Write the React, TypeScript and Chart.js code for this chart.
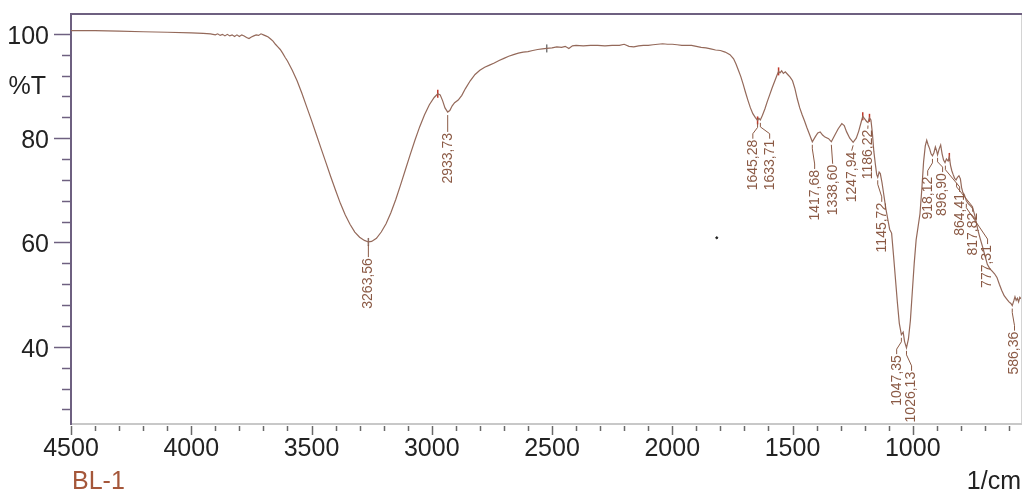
import React, { useEffect, useRef } from 'react';
import { Chart, registerables } from 'chart.js';

Chart.register(...registerables);

// ---- Spectrum data (wavenumber 1/cm, %T) ----
const wavenumbers = [
  4500, 4400, 4300, 4200, 4100, 4000, 3950, 3920, 3900, 3890, 3880, 3870, 3860, 3850, 3840, 3830, 3820, 3810,
  3800, 3790, 3780, 3770, 3760, 3750, 3740, 3730, 3720, 3710, 3700, 3690, 3680, 3670, 3660, 3650, 3640, 3630,
  3620, 3610, 3600, 3580, 3560, 3540, 3520, 3500, 3480, 3460, 3440, 3420, 3400, 3380, 3360, 3340, 3320, 3300,
  3280, 3263.56, 3250, 3230, 3210, 3190, 3170, 3150, 3130, 3110, 3090, 3070, 3050, 3030, 3010, 2990, 2975,
  2965, 2955, 2945, 2933.73, 2925, 2915, 2905, 2890, 2875, 2860, 2840, 2820, 2800, 2780, 2760, 2740, 2720,
  2700, 2680, 2660, 2640, 2620, 2600, 2580, 2560, 2540, 2522, 2500, 2480, 2460, 2445, 2430, 2415, 2400, 2370,
  2340, 2310, 2280, 2250, 2220, 2200, 2180, 2160, 2140, 2120, 2100, 2080, 2060, 2040, 2020, 2000, 1980, 1960,
  1940, 1920, 1900, 1880, 1860, 1840, 1820, 1800, 1780, 1760, 1745, 1735, 1725, 1715, 1705, 1695, 1685, 1675,
  1665, 1655, 1645.28, 1640, 1633.71, 1625, 1615, 1605, 1595, 1585, 1575, 1565, 1558, 1552, 1545, 1538, 1530,
  1520, 1510, 1500, 1490, 1480, 1470, 1460, 1450, 1440, 1430, 1417.68, 1405, 1395, 1385, 1375, 1365, 1350,
  1338.6, 1325, 1310, 1295, 1285, 1275, 1262, 1247.94, 1235, 1225, 1215, 1208, 1200, 1192, 1186.22, 1180, 1174,
  1168, 1162, 1155, 1150, 1145.72, 1140, 1135, 1128, 1120, 1112, 1104, 1096, 1088, 1080, 1072, 1064, 1056,
  1047.35, 1040, 1034, 1026.13, 1018, 1010, 1002, 994, 986, 978, 970, 962, 955, 948, 942, 936, 930, 924, 918.12,
  912, 906, 901, 896.9, 890, 884, 878, 872, 866, 860, 853, 848, 843, 838, 832, 826, 820, 814, 808, 802, 797, 792,
  786, 780, 777.31, 770, 760, 750, 740, 730, 720, 710, 700, 690, 680, 670, 660, 650, 640, 630, 620, 610, 600, 592,
  586.36, 580, 575, 570, 565, 560, 555, 550,
];

const transmittance = [
  100.6, 100.6, 100.5, 100.4, 100.3, 100.2, 100.1, 100.0, 99.8, 100.0, 99.7, 99.9, 99.6, 99.9, 99.6, 99.8, 99.5, 99.8,
  99.5, 99.8, 99.6, 99.3, 99.1, 99.4, 99.6, 99.8, 99.7, 100.0, 99.8, 99.6, 99.4, 99.0, 98.6, 98.0, 97.5, 97.0,
  96.3, 95.5, 94.8, 93.0, 91.0, 88.6, 86.0, 83.4, 80.7, 78.0, 75.3, 72.6, 70.0, 67.5, 65.3, 63.5, 62.0, 61.0,
  60.4, 60.1, 60.2, 60.8, 62.0, 63.6, 65.7, 68.2, 71.0, 73.9, 76.8, 79.6, 82.2, 84.5, 86.4, 87.8, 88.5,
  88.3, 87.2, 85.8, 85.0, 85.3, 86.2, 86.8, 87.3, 88.2, 89.5, 91.0, 92.2, 93.0, 93.6, 94.0, 94.4, 94.9,
  95.3, 95.7, 96.0, 96.3, 96.5, 96.6, 96.8, 97.0, 97.1, 97.2, 97.3, 97.5, 97.4, 97.6, 97.2, 97.7, 97.8, 97.7,
  97.8, 97.8, 97.7, 97.8, 97.8, 98.0, 97.6, 97.5, 97.7, 97.8, 97.8, 97.9, 98.0, 98.1, 98.0, 98.0, 97.9, 97.8,
  97.8, 97.8, 97.6, 97.4, 97.3, 97.1, 96.9, 96.8, 96.5, 96.0, 95.2, 94.2, 93.0, 91.8, 90.3, 88.7, 87.2, 85.8,
  84.7, 84.0, 83.4, 83.8, 83.5, 84.4, 85.6, 87.0, 88.3, 89.6, 90.8, 92.0, 92.8, 92.5, 92.9, 92.4, 92.7,
  92.2, 91.7, 91.0, 89.5, 87.5, 85.8, 84.5, 83.3, 82.0, 80.8, 79.3, 80.3, 81.0, 81.2, 80.6, 80.2, 79.9,
  79.3, 80.5, 81.8, 82.8, 82.4, 81.2, 80.0, 79.2, 80.0, 81.3, 83.0, 84.2, 83.7, 83.2, 83.0, 83.9, 83.5,
  81.0, 77.5, 74.8, 73.0, 72.5, 73.5, 73.2, 71.5, 69.0, 66.5, 64.5, 62.5, 61.8, 57.5, 53.0, 48.5, 44.5,
  42.3, 42.8, 41.0, 39.8, 41.5, 45.0, 50.5, 56.0, 60.5, 63.0, 65.5, 70.5, 75.5, 78.5, 79.6, 78.7, 78.0, 77.0, 76.6,
  77.2, 78.3, 77.6, 76.8, 78.0, 78.7, 77.0, 75.8, 75.3, 76.0, 75.6, 76.4, 74.8, 73.8, 73.0, 72.3, 72.0, 72.5, 72.8, 72.2, 70.5, 69.6,
  69.2, 68.4, 68.0, 67.5, 67.0, 66.5, 64.8, 62.5, 60.8, 59.2, 57.5, 55.8, 55.0, 54.5, 54.0, 53.3, 52.0, 50.8, 49.8, 49.2, 48.6, 48.3,
  47.9, 48.8, 49.6, 48.9, 49.3, 48.6, 49.5, 49.2,
];

// small marker ticks drawn on the trace
const markerWn = [2975, 2522, 3263.56, 1645.28, 1558, 1208, 1180, 848];
const markerT = [88.5, 97.2, 60.1, 83.4, 92.8, 84.2, 83.9, 76.4];
const markerColors = ['#c0392b', '#777777', '#8d6e63', '#c0392b', '#c0392b', '#c0392b', '#c0392b', '#c0392b'];

// stray dot in the plot
const dotWn = [1815];
const dotT = [60.9];

// peak labels: text, peak wavenumber, peak %T, label wavenumber, label top %T
const peakText = ['3263,56', '2933,73', '1645,28', '1633,71', '1417,68', '1338,60', '1247,94', '1186,22', '1145,72',
  '918,12', '896,90', '864,41', '817,82', '777,31', '1047,35', '1026,13', '586,36'];
const peakWn = [3263.56, 2933.73, 1645.28, 1633.71, 1417.68, 1338.6, 1247.94, 1186.22, 1145.72,
  918.12, 896.9, 864.41, 817.82, 777.31, 1047.35, 1026.13, 586.36];
const peakT = [60.1, 85.0, 83.4, 83.5, 79.3, 79.3, 79.2, 83.0, 72.5, 76.6, 76.8, 75.3, 72.0, 68.0, 42.3, 39.8, 47.9];
const labelWn = [3263.56, 2933.73, 1665, 1595, 1408, 1333, 1254, 1187, 1129, 938, 876, 805, 751, 689, 1067, 1005, 577];
const labelTopT = [57.0, 81.0, 79.7, 79.7, 73.9, 74.9, 77.4, 81.6, 67.6, 72.6, 73.3, 69.5, 65.7, 59.5, 38.4, 35.2, 42.9];

// axis ticks
const xTicks = [4500, 4400, 4300, 4200, 4100, 4000, 3900, 3800, 3700, 3600, 3500, 3400, 3300, 3200, 3100, 3000,
  2900, 2800, 2700, 2600, 2500, 2400, 2300, 2200, 2100, 2000, 1900, 1800, 1700, 1600, 1500, 1400, 1300, 1200,
  1100, 1000, 900, 800, 700, 600];
const xLabelTicks = [4500, 4000, 3500, 3000, 2500, 2000, 1500, 1000];
const yTicks = [28, 32, 36, 40, 44, 48, 52, 56, 60, 64, 68, 72, 76, 80, 84, 88, 92, 96, 100];
const yLabelTicks = [40, 60, 80, 100];

const FONT = '"Liberation Sans", Arial, sans-serif';
const AXIS_PURPLE = '#6e6080';
const TRACE = '#94695a';
const LABEL_BROWN = '#8b5a45';

const framePlugin = {
  id: 'frame',
  beforeDatasetsDraw(chart: any) {
    const { ctx, chartArea } = chart;
    const { left, right, top, bottom } = chartArea;
    const ys = chart.scales.y;
    const xs = chart.scales.x;
    ctx.save();
    // right border
    ctx.strokeStyle = '#d4d4d4';
    ctx.lineWidth = 1;
    ctx.beginPath();
    ctx.moveTo(right + 0.5, top);
    ctx.lineTo(right + 0.5, bottom);
    ctx.stroke();
    // bottom axis
    ctx.strokeStyle = '#c8c8c8';
    ctx.lineWidth = 2;
    ctx.beginPath();
    ctx.moveTo(left, bottom);
    ctx.lineTo(right + 1, bottom);
    ctx.stroke();
    // x ticks
    ctx.strokeStyle = '#6a6a6a';
    ctx.lineWidth = 1.5;
    xTicks.forEach((v) => {
      const px = Math.round(xs.getPixelForValue(v)) + 0.5;
      const major = xLabelTicks.includes(v);
      ctx.beginPath();
      ctx.moveTo(px, bottom + 2);
      ctx.lineTo(px, bottom + (major ? 11 : 7));
      ctx.stroke();
    });
    // top line
    ctx.strokeStyle = AXIS_PURPLE;
    ctx.lineWidth = 2;
    ctx.beginPath();
    ctx.moveTo(left - 1, top);
    ctx.lineTo(right + 1, top);
    ctx.stroke();
    // left axis
    ctx.beginPath();
    ctx.moveTo(left, top);
    ctx.lineTo(left, bottom + 1);
    ctx.stroke();
    // y ticks
    ctx.lineWidth = 1.5;
    yTicks.forEach((v) => {
      const py = Math.round(ys.getPixelForValue(v)) + 0.5;
      const major = yLabelTicks.includes(v);
      ctx.beginPath();
      ctx.moveTo(left - (major ? 17 : 9), py);
      ctx.lineTo(left, py);
      ctx.stroke();
    });
    ctx.restore();
  },
  afterDatasetsDraw(chart: any) {
    const { ctx, chartArea } = chart;
    const xs = chart.scales.x;
    const ys = chart.scales.y;
    ctx.save();
    // peak labels with leader lines
    ctx.strokeStyle = LABEL_BROWN;
    ctx.fillStyle = LABEL_BROWN;
    ctx.lineWidth = 1;
    ctx.font = `14px ${FONT}`;
    peakText.forEach((t, i) => {
      const px = xs.getPixelForValue(peakWn[i]);
      const py = ys.getPixelForValue(peakT[i]);
      const lx = xs.getPixelForValue(labelWn[i]);
      const ly = ys.getPixelForValue(labelTopT[i]);
      ctx.beginPath();
      ctx.moveTo(px, py + 3);
      if (Math.abs(lx - px) > 2) {
        ctx.lineTo(px, Math.min(py + 7, ly - 8));
        ctx.lineTo(lx, ly - 6);
      }
      ctx.lineTo(lx, ly - 1);
      ctx.stroke();
      ctx.save();
      ctx.translate(lx, ly);
      ctx.rotate(-Math.PI / 2);
      ctx.textAlign = 'right';
      ctx.textBaseline = 'middle';
      ctx.fillText(t, 0, 0);
      ctx.restore();
    });
    // %T, BL-1, 1/cm
    ctx.font = `25px ${FONT}`;
    ctx.fillStyle = '#222222';
    ctx.textAlign = 'right';
    ctx.textBaseline = 'middle';
    ctx.fillText('%T', chartArea.left - 25, ys.getPixelForValue(89.8));
    ctx.textAlign = 'right';
    ctx.textBaseline = 'alphabetic';
    ctx.fillText('1/cm', chartArea.right, 489);
    ctx.fillStyle = '#a5573a';
    ctx.textAlign = 'left';
    ctx.fillText('BL-1', chartArea.left + 1, 489);
    ctx.restore();
  },
};

export default function App() {
  const canvasRef = useRef<HTMLCanvasElement | null>(null);

  useEffect(() => {
    document.body.style.margin = '0';
    const canvas = canvasRef.current;
    if (!canvas) return;
    const spectrum = wavenumbers.map((w, i) => ({ x: w, y: transmittance[i] }));
    const markers = markerWn.map((w, i) => ({ x: w, y: markerT[i] }));
    const dots = dotWn.map((w, i) => ({ x: w, y: dotT[i] }));

    const chart = new Chart(canvas, {
      type: 'scatter',
      data: {
        datasets: [
          {
            label: 'BL-1',
            data: spectrum,
            showLine: true,
            borderColor: TRACE,
            borderWidth: 1.2,
            pointRadius: 0,
            tension: 0,
          },
          {
            label: 'markers',
            data: markers,
            showLine: false,
            pointStyle: 'line',
            rotation: 90,
            pointRadius: 4,
            borderWidth: 1.5,
            borderColor: markerColors,
            backgroundColor: markerColors,
          },
          {
            label: 'dot',
            data: dots,
            showLine: false,
            pointRadius: 1,
            backgroundColor: '#222',
            borderColor: '#222',
          },
        ],
      } as any,
      options: {
        responsive: true,
        maintainAspectRatio: false,
        animation: false,
        events: [],
        layout: { autoPadding: false, padding: { top: 14, right: 2, left: 0, bottom: 0 } },
        plugins: {
          legend: { display: false },
          tooltip: { enabled: false },
        },
        scales: {
          x: {
            type: 'linear',
            reverse: true,
            min: 550,
            max: 4500,
            grid: { display: false, drawTicks: false },
            border: { display: false },
            afterBuildTicks: (scale: any) => {
              scale.ticks = xTicks.map((v) => ({ value: v }));
            },
            afterFit: (scale: any) => {
              scale.height = 69;
              scale.paddingLeft = 0;
              scale.paddingRight = 0;
            },
            ticks: {
              autoSkip: false,
              maxRotation: 0,
              padding: 10,
              color: '#222222',
              font: { family: FONT, size: 25 },
              callback: (v: any) => (xLabelTicks.includes(Number(v)) ? String(v) : ''),
            },
          },
          y: {
            type: 'linear',
            min: 25.2,
            max: 103.8,
            grid: { display: false, drawTicks: false },
            border: { display: false },
            afterBuildTicks: (scale: any) => {
              scale.ticks = yTicks.map((v) => ({ value: v }));
            },
            afterFit: (scale: any) => {
              scale.width = 71;
              scale.paddingTop = 0;
              scale.paddingBottom = 0;
            },
            ticks: {
              autoSkip: false,
              padding: 22,
              labelOffset: 3,
              color: '#222222',
              font: { family: FONT, size: 25 },
              callback: (v: any) => (yLabelTicks.includes(Number(v)) ? String(v) : ''),
            },
          },
        },
      } as any,
      plugins: [framePlugin],
    });
    return () => chart.destroy();
  }, []);

  return (
    <div style={{ position: 'fixed', left: 0, top: 0, width: 1023, height: 493, background: '#ffffff' }}>
      <canvas ref={canvasRef} />
    </div>
  );
}
